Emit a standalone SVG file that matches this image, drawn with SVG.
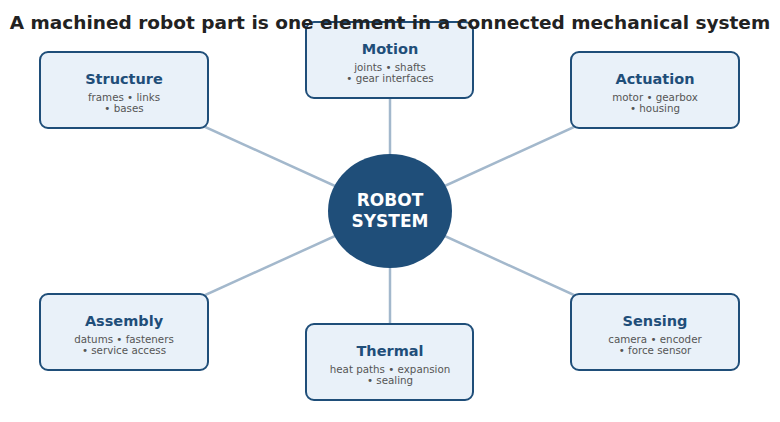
<svg xmlns="http://www.w3.org/2000/svg" width="780" height="422" viewBox="0 0 780 422">
<style>
.title{font-family:"DejaVu Sans",sans-serif;font-weight:bold;font-size:18.5px;fill:#222;text-anchor:middle}
.box{fill:#e9f1f9;stroke:#1f4e79;stroke-width:2}
.h{font-family:"DejaVu Sans",sans-serif;font-weight:bold;font-size:14.5px;fill:#1f4e79;text-anchor:middle}
.s{font-family:"DejaVu Sans",sans-serif;font-size:10.3px;fill:#555;text-anchor:middle}
.c{font-family:"DejaVu Sans",sans-serif;font-weight:bold;font-size:17px;fill:#fff;text-anchor:middle}
.ln{stroke:#a3b8cc;stroke-width:2.5;fill:none}
</style>
<rect width="780" height="422" fill="#fff"/>
<g id="connectors">
<line class="ln" x1="390" y1="211" x2="124" y2="90"/>
<line class="ln" x1="390" y1="211" x2="390" y2="60"/>
<line class="ln" x1="390" y1="211" x2="655" y2="90"/>
<line class="ln" x1="390" y1="211" x2="124" y2="332"/>
<line class="ln" x1="390" y1="211" x2="390" y2="362"/>
<line class="ln" x1="390" y1="211" x2="655" y2="332"/>
</g>
<g id="structure">
<rect class="box" x="40" y="52" width="168" height="76" rx="8"/>
<text class="h" x="124" y="84">Structure</text>
<text class="s" x="124" y="100.5">frames • links</text>
<text class="s" x="124" y="111.5">• bases</text>
</g>
<g id="motion">
<rect class="box" x="306" y="22" width="167" height="76" rx="8"/>
<text class="h" x="390" y="54">Motion</text>
<text class="s" x="390" y="70.5">joints • shafts</text>
<text class="s" x="390" y="81.5">• gear interfaces</text>
</g>
<g id="actuation">
<rect class="box" x="571" y="52" width="168" height="76" rx="8"/>
<text class="h" x="655" y="84">Actuation</text>
<text class="s" x="655" y="100.5">motor • gearbox</text>
<text class="s" x="655" y="111.5">• housing</text>
</g>
<g id="assembly">
<rect class="box" x="40" y="294" width="168" height="76" rx="8"/>
<text class="h" x="124" y="326">Assembly</text>
<text class="s" x="124" y="342.5">datums • fasteners</text>
<text class="s" x="124" y="353.5">• service access</text>
</g>
<g id="thermal">
<rect class="box" x="306" y="324" width="167" height="76" rx="8"/>
<text class="h" x="390" y="356">Thermal</text>
<text class="s" x="390" y="372.5">heat paths • expansion</text>
<text class="s" x="390" y="383.5">• sealing</text>
</g>
<g id="sensing">
<rect class="box" x="571" y="294" width="168" height="76" rx="8"/>
<text class="h" x="655" y="326">Sensing</text>
<text class="s" x="655" y="342.5">camera • encoder</text>
<text class="s" x="655" y="353.5">• force sensor</text>
</g>
<g id="robot-system">
<ellipse cx="390" cy="211" rx="62" ry="57" fill="#1f4e79"/>
<text class="c" x="390" y="206">ROBOT</text>
<text class="c" x="390" y="227">SYSTEM</text>
</g>
<text class="title" x="390" y="29">A machined robot part is one element in a connected mechanical system</text>
</svg>
